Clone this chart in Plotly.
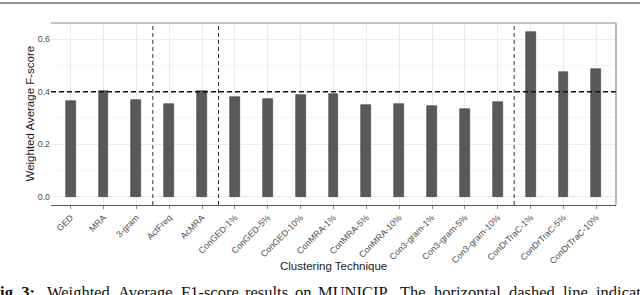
import plotly.graph_objects as go

categories = ["GED", "MRA", "3-gram", "ActFreq", "AcMRA",
              "ConGED-1%", "ConGED-5%", "ConGED-10%",
              "ConMRA-1%", "ConMRA-5%", "ConMRA-10%",
              "Con3-gram-1%", "Con3-gram-5%", "Con3-gram-10%",
              "ConDrTraC-1%", "ConDrTraC-5%", "ConDrTraC-10%"]
fscores = [0.363, 0.401, 0.368, 0.353, 0.401,
           0.381, 0.371, 0.389,
           0.391, 0.349, 0.354,
           0.344, 0.333, 0.362,
           0.629, 0.475, 0.485]
group_separators = [2.5, 4.5, 13.5]
reference_line = 0.4
y_ticks = [0.0, 0.2, 0.4, 0.6]
y_tick_labels = ["0.0", "0.2", "0.4", "0.6"]

W, H = 640, 295
L, R, T, B = 51, 24, 23, 90
pw, ph = W - L - R, H - T - B

def px_x(p):
    return (p - L) / pw

def px_y(p):
    return (H - B - p) / ph

fig = go.Figure()
fig.add_trace(go.Bar(
    x=categories, y=fscores, width=0.3,
    marker=dict(color="#595959", line=dict(color="#404040", width=0.6)),
))

shapes = []
shapes.append(dict(type="line", xref="paper", yref="paper", x0=0, x1=1, y0=1, y1=1,
                   line=dict(color="#8c8c8c", width=1.2)))
shapes.append(dict(type="line", xref="paper", yref="paper", x0=1, x1=1, y0=0, y1=1,
                   line=dict(color="#8c8c8c", width=1.2)))
for s in group_separators:
    shapes.append(dict(type="line", xref="x", yref="paper", x0=s, x1=s, y0=0, y1=1,
                       line=dict(color="#333333", width=1, dash="4px,3px")))
shapes.append(dict(type="line", xref="paper", yref="y", x0=0, x1=1,
                   y0=reference_line, y1=reference_line,
                   line=dict(color="#111111", width=1.4, dash="5px,3px")))
shapes.append(dict(type="line", xref="paper", yref="paper", x0=px_x(0), x1=px_x(W),
                   y0=px_y(3), y1=px_y(3), line=dict(color="#6e6e6e", width=1.6)))

cap_font = dict(family="Liberation Serif", size=16.5, color="#111111")
cap_y = px_y(282)
caption_words = [
    ("<b>Fig. 3:</b>", 36, "right"),
    ("Weighted", 46, "left"),
    ("Average", 117, "left"),
    ("F1-score", 179.5, "left"),
    ("results", 244, "left"),
    ("on", 294, "left"),
    ("MUNICIP.", 317, "left"),
    ("The", 399, "left"),
    ("horizontal", 433, "left"),
    ("dashed", 508, "left"),
    ("line", 562, "left"),
    ("indicates", 595, "left"),
]

annotations = [
    dict(text="Clustering Technique", xref="paper", yref="paper", x=0.5, y=px_y(266),
         xanchor="center", yanchor="middle", showarrow=False,
         font=dict(family="Liberation Sans", size=11.5, color="#1a1a1a")),
    dict(text="Weighted Average F-score", xref="paper", yref="paper", x=px_x(29.5), y=0.5,
         xanchor="center", yanchor="middle", textangle=-90, showarrow=False,
         font=dict(family="Liberation Sans", size=11.5, color="#1a1a1a")),
]
for txt, xp, anc in caption_words:
    annotations.append(dict(text=txt, xref="paper", yref="paper", x=px_x(xp), y=cap_y,
                            xanchor=anc, yanchor="top", showarrow=False, font=cap_font,
                            borderpad=0))

fig.update_layout(
    width=W, height=H, autosize=False,
    margin=dict(l=L, r=R, t=T, b=B, pad=0),
    paper_bgcolor="white", plot_bgcolor="white",
    showlegend=False, bargap=0,
    shapes=shapes, annotations=annotations,
    xaxis=dict(
        type="category", range=[-0.6, len(categories) - 0.4],
        tickangle=-45, tickfont=dict(family="Liberation Sans", size=8.8, color="#4d4d4d"),
        showgrid=True, gridcolor="#ebebeb", gridwidth=1,
        showline=True, linecolor="#595959", linewidth=1.2,
        ticks="outside", ticklen=3, tickcolor="#8c8c8c", tickwidth=1,
        zeroline=False, automargin=False,
    ),
    yaxis=dict(
        range=[-0.0315, 0.6615],
        tickvals=y_ticks, ticktext=y_tick_labels,
        tickfont=dict(family="Liberation Sans", size=8.8, color="#4d4d4d"),
        showgrid=True, gridcolor="#ebebeb", gridwidth=1,
        minor=dict(dtick=0.1, showgrid=True, gridcolor="#f5f5f5", gridwidth=1),
        ticks="", ticklen=0,
        zeroline=False, showline=False, automargin=False,
    ),
)

fig.write_html("out.html", config={"displayModeBar": False},
               post_script="document.body.style.margin='0px';document.body.style.overflow='hidden';")
